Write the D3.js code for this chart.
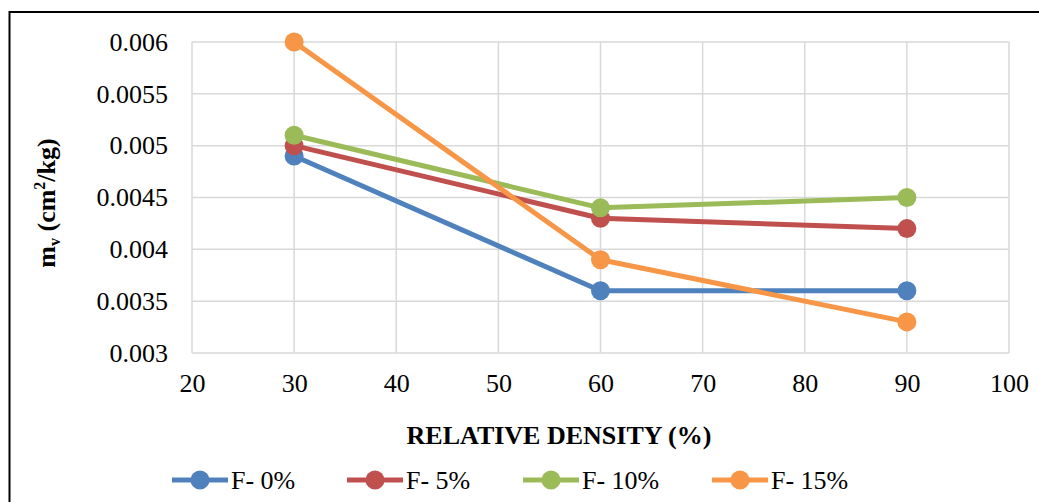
<!DOCTYPE html>
<html>
<head>
<meta charset="utf-8">
<script src="https://cdn.jsdelivr.net/npm/d3@7"></script>
<style>
html,body{margin:0;padding:0;background:#fff;}
svg{display:block;}
text{font-family:"Liberation Serif","Times New Roman",serif;fill:#000;}
</style>
</head>
<body>
<svg id="chart" width="1039" height="502"></svg>
<script>
const relativeDensity = [30, 60, 90];
const seriesNames = ["F- 0%", "F- 5%", "F- 10%", "F- 15%"];
const f0 = [0.0049, 0.0036, 0.0036];
const f5 = [0.0050, 0.0043, 0.0042];
const f10 = [0.0051, 0.0044, 0.0045];
const f15 = [0.0060, 0.0039, 0.0033];
const seriesColors = ["#4f81bd", "#c0504d", "#9bbb59", "#f79646"];
const xTicks = [20, 30, 40, 50, 60, 70, 80, 90, 100];
const yTicks = [0.003, 0.0035, 0.004, 0.0045, 0.005, 0.0055, 0.006];

const seriesValues = [f0, f5, f10, f15];
const series = seriesNames.map((n, i) => ({
  name: n, color: seriesColors[i],
  pts: relativeDensity.map((x, j) => ({x, y: seriesValues[i][j]}))
}));

const FONT = "'Liberation Serif','Times New Roman',serif";
const svg = d3.select("#chart");
const plot = {left: 192, right: 1009, top: 42, bottom: 353};
const x = d3.scaleLinear().domain([20, 100]).range([plot.left, plot.right]);
const y = d3.scaleLinear().domain([0.003, 0.006]).range([plot.bottom, plot.top]);

// outer border (chart area frame)
svg.append("path").attr("d", "M9.5,502 L9.5,12 L1039,12")
  .attr("fill", "none").attr("stroke", "#000").attr("stroke-width", 2);

// gridlines
const grid = svg.append("g");
grid.selectAll("line.h").data(yTicks).join("line")
  .attr("x1", plot.left).attr("x2", plot.right)
  .attr("y1", d => y(d)).attr("y2", d => y(d))
  .attr("stroke", "#d9d9d9").attr("stroke-width", 1.5);
grid.selectAll("line.v").data(xTicks).join("line")
  .attr("y1", plot.top).attr("y2", plot.bottom)
  .attr("x1", d => x(d)).attr("x2", d => x(d))
  .attr("stroke", "#d9d9d9").attr("stroke-width", 1.5);

// axes via d3 axis
const yAxis = svg.append("g").attr("transform", `translate(${plot.left},0)`)
  .call(d3.axisLeft(y).tickValues(yTicks).tickSize(0).tickPadding(24)
    .tickFormat(d => String(+d.toFixed(4))));
yAxis.attr("font-family", FONT).attr("font-size", 26);
yAxis.select(".domain").remove();
yAxis.selectAll("text").attr("font-size", 26).attr("font-family", FONT);

const xAxis = svg.append("g").attr("transform", `translate(0,${plot.bottom})`)
  .call(d3.axisBottom(x).tickValues(xTicks).tickSize(0).tickPadding(21).tickFormat(d3.format("d")));
xAxis.attr("font-family", FONT).attr("font-size", 26);
xAxis.select(".domain").remove();
xAxis.selectAll("text").attr("font-size", 26).attr("font-family", FONT);

// axis titles
svg.append("text").attr("x", 559).attr("y", 444).attr("text-anchor", "middle")
  .attr("font-size", 26).attr("font-weight", "bold").text("RELATIVE DENSITY (%)");

const yt = svg.append("text").attr("transform", "translate(55,203) rotate(-90)")
  .attr("text-anchor", "middle").attr("font-size", 26).attr("font-weight", "bold");
yt.append("tspan").text("m");
yt.append("tspan").attr("font-size", 16).attr("dy", 5).text("v");
yt.append("tspan").attr("dy", -5).text(" (cm");
yt.append("tspan").attr("font-size", 16).attr("dy", -10).text("2");
yt.append("tspan").attr("dy", 10).text("/kg)");

// series
const line = d3.line().x(d => x(d.x)).y(d => y(d.y));
series.forEach(s => {
  const g = svg.append("g");
  g.append("path").attr("d", line(s.pts)).attr("fill", "none")
    .attr("stroke", s.color).attr("stroke-width", 5).attr("stroke-linejoin", "round");
  g.selectAll("circle").data(s.pts).join("circle")
    .attr("cx", d => x(d.x)).attr("cy", d => y(d.y)).attr("r", 9.5).attr("fill", s.color);
});

// legend
const legendX = [172, 347, 523, 712];
const legendY = 480;
series.forEach((s, i) => {
  const g = svg.append("g").attr("transform", `translate(${legendX[i]},${legendY})`);
  g.append("line").attr("x1", 0).attr("x2", 56).attr("y1", 0).attr("y2", 0)
    .attr("stroke", s.color).attr("stroke-width", 5);
  g.append("circle").attr("cx", 28).attr("cy", 0).attr("r", 9.5).attr("fill", s.color);
  g.append("text").attr("x", 59).attr("y", 0).attr("dy", "0.35em")
    .attr("font-size", 26).text(s.name);
});
</script>
</body>
</html>
